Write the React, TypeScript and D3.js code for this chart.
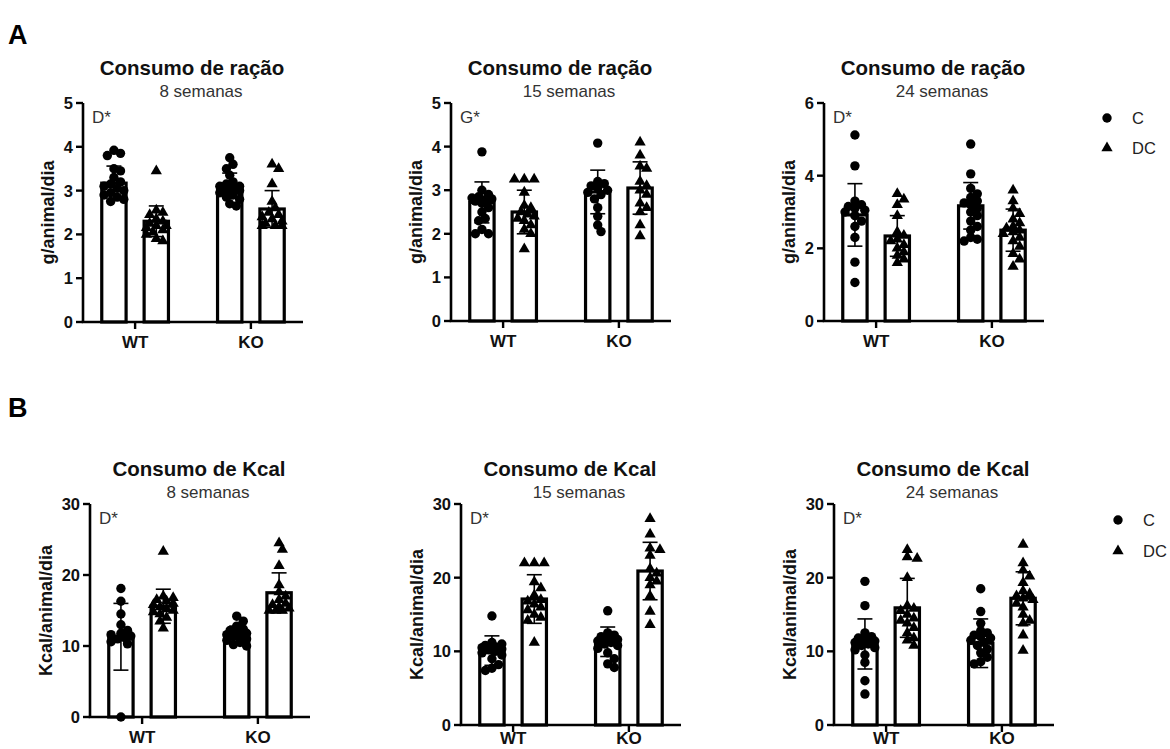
import React from 'react';
import * as d3 from 'd3';

const FONT = "'Liberation Sans', Arial, Helvetica, sans-serif";

const genotypes = ['WT', 'KO'];
const diets = ['C', 'DC'];

// Order of every mean / sd / points list: WT-C, WT-DC, KO-C, KO-DC
const racaoTicks = [0, 1, 2, 3, 4, 5];
const racao24Ticks = [0, 2, 4, 6];
const kcalTicks = [0, 10, 20, 30];

const racao8Mean = [3.17, 2.3, 3.12, 2.58];
const racao8Sd = [0.39, 0.35, 0.28, 0.42];
const racao8Points = [
  [3.92, 3.85, 3.8, 3.5, 3.45, 3.3, 3.2, 3.15, 3.1, 3.05, 3.0, 2.95, 2.9, 2.85, 2.8, 2.75],
  [3.45, 2.55, 2.5, 2.45, 2.35, 2.3, 2.25, 2.2, 2.2, 2.15, 2.1, 2.05, 2.0, 1.9, 1.85],
  [3.75, 3.6, 3.5, 3.35, 3.2, 3.15, 3.1, 3.1, 3.05, 3.0, 3.0, 2.95, 2.9, 2.85, 2.8, 2.7, 2.65],
  [3.6, 3.5, 3.15, 2.75, 2.6, 2.5, 2.45, 2.4, 2.35, 2.3, 2.25, 2.2, 2.2, 2.2],
];

const racao15Mean = [2.72, 2.5, 2.96, 3.05];
const racao15Sd = [0.47, 0.5, 0.5, 0.6];
const racao15Points = [
  [3.88, 3.0, 2.9, 2.85, 2.82, 2.8, 2.78, 2.75, 2.7, 2.6, 2.5, 2.35, 2.3, 2.1, 2.0, 2.0],
  [3.25, 3.25, 3.25, 2.95, 2.65, 2.6, 2.5, 2.45, 2.4, 2.35, 2.3, 2.2, 2.1, 2.0, 1.65],
  [4.08, 3.2, 3.15, 3.1, 3.05, 3.0, 2.95, 2.9, 2.8, 2.6, 2.4, 2.2, 2.05],
  [4.1, 3.8, 3.55, 3.5, 3.2, 3.1, 3.0, 2.9, 2.7, 2.6, 2.5, 2.2, 1.95],
];

const racao24Mean = [2.92, 2.34, 3.17, 2.5];
const racao24Sd = [0.86, 0.56, 0.64, 0.58];
const racao24Points = [
  [5.12, 4.27, 3.3, 3.2, 3.15, 3.1, 3.05, 3.0, 2.9, 2.75, 2.6, 2.3, 1.62, 1.06],
  [3.5, 3.35, 3.2, 2.9, 2.45, 2.35, 2.25, 2.2, 2.1, 2.0, 1.9, 1.8, 1.7, 1.6],
  [4.87, 4.05, 3.65, 3.5, 3.4, 3.3, 3.25, 3.2, 3.1, 3.0, 2.9, 2.75, 2.6, 2.5, 2.3, 2.25, 2.2],
  [3.6, 3.3, 3.1, 2.95, 2.8, 2.7, 2.6, 2.55, 2.5, 2.45, 2.4, 2.3, 2.2, 2.05, 1.85, 1.7, 1.5],
];

const kcal8Mean = [11.3, 15.6, 11.7, 17.5];
const kcal8Sd = [4.7, 2.4, 1.1, 2.8];
const kcal8Points = [
  [18.1, 16.3, 14.5, 13.0, 12.2, 11.8, 11.6, 11.4, 11.2, 11.0, 10.6, 10.3, 0],
  [23.3, 17.0, 16.8, 16.5, 16.3, 16.0, 15.8, 15.5, 15.2, 15.0, 14.8, 14.5, 14.0, 13.5, 12.5],
  [14.2, 13.5, 12.8, 12.4, 12.2, 12.0, 11.8, 11.6, 11.5, 11.3, 11.0, 10.8, 10.5, 10.2, 10.0],
  [24.5, 23.6, 21.3, 18.6, 17.6, 17.0, 16.5, 16.0, 15.8, 15.5, 15.3, 15.0, 15.0, 15.0],
];

const kcal15Mean = [10.1, 17.1, 11.3, 20.9];
const kcal15Sd = [2.0, 3.3, 2.0, 3.9];
const kcal15Points = [
  [14.8, 11.2, 11.0, 10.8, 10.6, 10.5, 10.3, 10.2, 10.0, 9.8, 9.5, 9.0, 8.2, 7.7, 7.4],
  [22.0, 22.0, 22.0, 19.4, 18.6, 17.6, 17.0, 16.8, 16.4, 16.0, 15.6, 15.0, 14.6, 14.2, 11.2],
  [15.5, 12.5, 12.2, 12.0, 11.8, 11.6, 11.4, 11.2, 11.0, 10.8, 10.4, 9.8, 9.0, 8.3, 7.8],
  [28.0, 25.9, 24.0, 23.8, 23.0, 21.2, 20.6, 20.0, 19.5, 19.0, 17.5, 15.4, 13.6],
];

const kcal24Mean = [11.0, 15.9, 11.1, 17.2];
const kcal24Sd = [3.4, 4.0, 3.3, 3.6];
const kcal24Points = [
  [19.5, 16.2, 12.5, 12.0, 11.8, 11.6, 11.4, 11.2, 11.0, 10.8, 10.5, 10.2, 9.5, 8.5, 6.0, 4.2],
  [23.8, 22.8, 22.6, 20.0, 16.2, 15.8, 15.5, 15.0, 14.5, 14.2, 13.8, 13.2, 12.5, 11.8, 11.5, 10.8],
  [18.5, 15.4, 13.8, 12.8, 12.5, 12.2, 12.0, 11.8, 11.5, 11.2, 10.8, 10.3, 9.8, 9.2, 8.6, 8.3],
  [24.5, 22.0, 21.0, 20.2, 19.3, 18.2, 17.8, 17.5, 17.2, 17.0, 16.5, 16.0, 15.0, 14.2, 13.8, 12.2, 10.1],
];

const panels = [
  { title: 'Consumo de ração', subtitle: '8 semanas', yLabel: 'g/animal/dia', note: 'D*', ticks: racaoTicks, mean: racao8Mean, sd: racao8Sd, points: racao8Points },
  { title: 'Consumo de ração', subtitle: '15 semanas', yLabel: 'g/animal/dia', note: 'G*', ticks: racaoTicks, mean: racao15Mean, sd: racao15Sd, points: racao15Points },
  { title: 'Consumo de ração', subtitle: '24 semanas', yLabel: 'g/animal/dia', note: 'D*', ticks: racao24Ticks, mean: racao24Mean, sd: racao24Sd, points: racao24Points },
  { title: 'Consumo de Kcal', subtitle: '8 semanas', yLabel: 'Kcal/animal/dia', note: 'D*', ticks: kcalTicks, mean: kcal8Mean, sd: kcal8Sd, points: kcal8Points },
  { title: 'Consumo de Kcal', subtitle: '15 semanas', yLabel: 'Kcal/animal/dia', note: 'D*', ticks: kcalTicks, mean: kcal15Mean, sd: kcal15Sd, points: kcal15Points },
  { title: 'Consumo de Kcal', subtitle: '24 semanas', yLabel: 'Kcal/animal/dia', note: 'D*', ticks: kcalTicks, mean: kcal24Mean, sd: kcal24Sd, points: kcal24Points },
];

// Frame of each panel: y-axis x position, top of the value axis, baseline
const frames = [
  { x: 83, top: 103, zero: 322 },
  { x: 451, top: 103, zero: 321 },
  { x: 824, top: 103, zero: 321 },
  { x: 90, top: 504, zero: 717 },
  { x: 461, top: 504, zero: 725 },
  { x: 834, top: 504, zero: 725 },
];

const AXIS_W = 220;
const R = 4.7;
const MAX_DX = 13;
const triPath = d3.symbol(d3.symbolTriangle, 55)() as string;

// Deterministic swarm: dots spread sideways within the bar, overlapping when crowded
function swarm(vals: number[], y: (v: number) => number) {
  const placed: { x: number; y: number }[] = [];
  const minD = R * 1.45;
  const step = R * 0.7;
  const cands: number[] = [0];
  for (let k = 1; k * step <= MAX_DX; k++) cands.push(k * step, -k * step);
  return vals.map((v) => {
    const py = y(v);
    let best = 0;
    let bestGap = -Infinity;
    for (const dx of cands) {
      const gap = placed.length
        ? Math.min(...placed.map((p) => Math.hypot(p.x - dx, p.y - py)))
        : Infinity;
      if (gap >= minD) {
        best = dx;
        bestGap = gap;
        break;
      }
      if (gap > bestGap) {
        bestGap = gap;
        best = dx;
      }
    }
    placed.push({ x: best, y: py });
    return { dx: best, py };
  });
}

function Panel({ p, f }: { p: (typeof panels)[number]; f: (typeof frames)[number] }) {
  const y = d3.scaleLinear().domain([0, d3.max(p.ticks) as number]).range([f.zero, f.top]);
  const xg = d3.scaleBand().domain(genotypes).range([0, AXIS_W]).paddingInner(0.25).paddingOuter(0.075);
  const xd = d3.scaleBand().domain(diets).range([0, xg.bandwidth()]).paddingInner(0.35).paddingOuter(0.2);
  const bw = xd.bandwidth();
  const maxLen = d3.max(p.ticks, (t) => String(t).length) as number;
  const labelX = -(26 + 9 * maxLen);
  // category labels of the lower panels sit right at the bottom edge of the figure
  const catY = Math.min(f.zero + 26, 744);

  return (
    <g transform={`translate(${f.x},0)`}>
      <text x={109} y={f.top - 28} textAnchor="middle" fontFamily={FONT} fontWeight="bold" fontSize={20.5} fill="#111">
        {p.title}
      </text>
      <text x={118} y={f.top - 6} textAnchor="middle" fontFamily={FONT} fontSize={17} fill="#333">
        {p.subtitle}
      </text>
      <text
        transform={`translate(${labelX},${(f.top + f.zero) / 2}) rotate(-90)`}
        dy="0.35em"
        textAnchor="middle"
        fontFamily={FONT}
        fontWeight="bold"
        fontSize={18}
        fill="#111"
      >
        {p.yLabel}
      </text>
      <text x={9} y={f.top + 20} fontFamily={FONT} fontSize={17} fill="#333">
        {p.note}
      </text>

      {genotypes.map((g, gi) =>
        diets.map((d, di) => {
          const i = gi * 2 + di;
          const x0 = (xg(g) as number) + (xd(d) as number);
          const cx = x0 + bw / 2;
          const m = p.mean[i];
          const s = p.sd[i];
          const pts = swarm(p.points[i], y);
          return (
            <g key={`${g}-${d}`}>
              <rect x={x0 + 1.6} y={y(m)} width={bw - 3.2} height={f.zero - y(m)} fill="#fff" stroke="#000" strokeWidth={3.2} />
              {pts.map((pt, k) =>
                d === 'C' ? (
                  <circle key={k} cx={cx + pt.dx} cy={pt.py} r={R} fill="#000" />
                ) : (
                  <path key={k} d={triPath} transform={`translate(${cx + pt.dx},${pt.py})`} fill="#000" />
                )
              )}
              <g stroke="#000" strokeWidth={1.6}>
                <line x1={cx} x2={cx} y1={y(Math.max(0, m - s))} y2={y(m + s)} />
                <line x1={cx - 7.5} x2={cx + 7.5} y1={y(m + s)} y2={y(m + s)} />
                <line x1={cx - 7.5} x2={cx + 7.5} y1={y(Math.max(0, m - s))} y2={y(Math.max(0, m - s))} />
              </g>
            </g>
          );
        })
      )}

      {/* axes */}
      <line x1={0} x2={0} y1={f.top} y2={f.zero} stroke="#000" strokeWidth={2.6} />
      <line x1={-1.3} x2={AXIS_W} y1={f.zero} y2={f.zero} stroke="#000" strokeWidth={2.6} />
      {p.ticks.map((t) => (
        <g key={t}>
          <line x1={-7} x2={0} y1={y(t)} y2={y(t)} stroke="#000" strokeWidth={2.4} />
          <text x={-10} y={y(t)} dy="0.36em" textAnchor="end" fontFamily={FONT} fontWeight="bold" fontSize={16.5} fill="#111">
            {t}
          </text>
        </g>
      ))}
      {genotypes.map((g) => {
        const gx = (xg(g) as number) + xg.bandwidth() / 2;
        return (
          <g key={g}>
            <line x1={gx} x2={gx} y1={f.zero} y2={f.zero + 7} stroke="#000" strokeWidth={2.4} />
            <text x={gx} y={catY} textAnchor="middle" fontFamily={FONT} fontWeight="bold" fontSize={17} fill="#111">
              {g}
            </text>
          </g>
        );
      })}
    </g>
  );
}

function Legend({ x, y, gap }: { x: number; y: number; gap: number }) {
  return (
    <g fontFamily={FONT} fontSize={16.5} fill="#222">
      <circle cx={x} cy={y} r={R} fill="#000" />
      <text x={x + 25} y={y} dy="0.36em">C</text>
      <path d={triPath} transform={`translate(${x},${y + gap})`} fill="#000" />
      <text x={x + 25} y={y + gap} dy="0.36em">DC</text>
    </g>
  );
}

export default function App() {
  return (
    <svg width={1170} height={749} style={{ position: 'absolute', left: 0, top: 0, background: '#fff' }}>
      <rect width={1170} height={749} fill="#fff" />
      <text x={8} y={44} fontFamily={FONT} fontWeight="bold" fontSize={27} fill="#000">A</text>
      <text x={8} y={417} fontFamily={FONT} fontWeight="bold" fontSize={27} fill="#000">B</text>
      {panels.map((p, i) => (
        <Panel key={i} p={p} f={frames[i]} />
      ))}
      <Legend x={1107} y={118} gap={30} />
      <Legend x={1118} y={520} gap={31} />
    </svg>
  );
}
